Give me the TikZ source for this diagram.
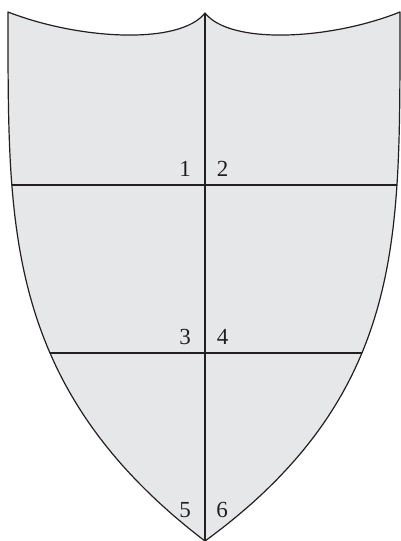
\documentclass[tikz,border=0pt]{standalone}
\usepackage{fontspec}
\setmainfont{Liberation Serif}
\definecolor{shieldfill}{HTML}{E6E7E9}
\definecolor{shieldline}{HTML}{231F20}
\tikzset{
  edge/.style={draw=shieldline, line width=1.2pt, line join=round},
  lab/.style={font=\fontsize{23}{27}\selectfont, text=shieldline, inner sep=0pt, anchor=center}
}
\begin{document}
\begin{tikzpicture}[x=1pt,y=-1pt]
\useasboundingbox (0,0) rectangle (400,541);
\def\shield{(8,12) .. controls (80,40) and (180,45) .. (205,13)
  .. controls (230,45) and (330,40) .. (400,12)
  -- plot[domain=0.02:1, samples=120, variable=\t, smooth] ({400-195*(\t)^3.72},{12+529*\t})
  -- plot[domain=1:0.02, samples=120, variable=\t, smooth] ({8+197*(\t)^3.52},{12+529*\t})
  -- cycle}
\fill[shieldfill] \shield;
\begin{scope}
  \clip \shield;
  \draw[edge] (0,185) -- (400,185);
  \draw[edge] (0,353) -- (400,353);
  \draw[edge] (205,0) -- (205,541);
\end{scope}
\draw[edge] \shield;
\node[lab] (l1) at (185,169) {1};
\node[lab] (l2) at (222.5,169) {2};
\node[lab] (l3) at (185,337) {3};
\node[lab] (l4) at (222.5,337) {4};
\node[lab] (l5) at (185,510) {5};
\node[lab] (l6) at (222,510) {6};
\end{tikzpicture}
\end{document}
